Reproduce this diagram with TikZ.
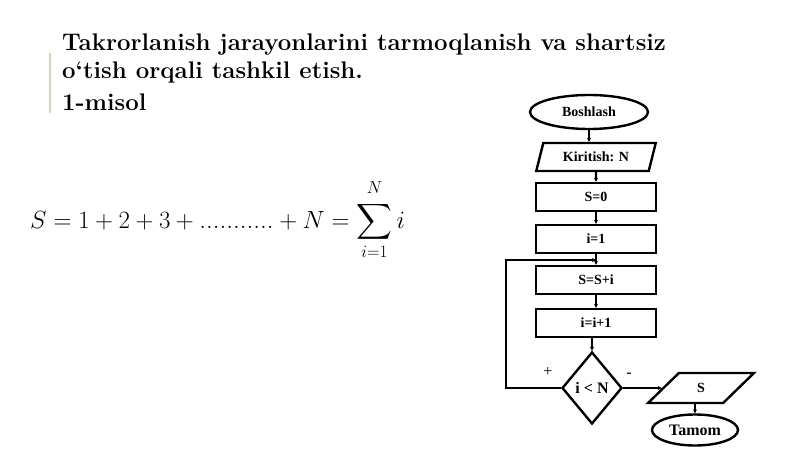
\documentclass[tikz,border=0pt]{standalone}
\usepackage{fontspec}
\usepackage{amsmath}
\newfontfamily\blokfont{Liberation Serif}
\usetikzlibrary{shapes.geometric,arrows.meta}
\definecolor{chiziq}{RGB}{214,212,178}

\begin{document}
\begin{tikzpicture}[x=1pt,y=-1pt,
  sarlavha/.style={anchor=base west,inner sep=0pt,font=\bfseries\fontsize{24}{28}\selectfont\addfontfeatures{LetterSpace=5}},
  blok/.style={draw,line width=2.4pt,minimum width=120pt,minimum height=28pt,inner sep=0pt,font=\blokfont\bfseries\fontsize{14}{16}\selectfont},
  kirit/.style={blok,trapezium,trapezium left angle=66,trapezium right angle=114,trapezium stretches=true},
  oval/.style={blok,ellipse,minimum width=118pt,minimum height=34pt},
  shart/.style={blok,diamond,minimum width=60pt,minimum height=72pt,font=\blokfont\bfseries\fontsize{16}{18}\selectfont},
  yol/.style={line width=2.4pt,-{Stealth[length=4pt,width=4pt]}}]
\useasboundingbox (0,0) rectangle (800,449);
\draw[chiziq,line width=2pt] (50,53) -- (50,113);
\node[sarlavha] (t1) at (62,51) {Takrorlanish jarayonlarini tarmoqlanish va shartsiz};
\node[sarlavha] (t2) at (62,79) {o‘tish orqali tashkil etish.};
\node[sarlavha] (t3) at (62,111) {1-misol};
\node[anchor=base west,inner sep=0pt,font=\fontsize{27}{30}\selectfont] (formula) at (30,228)
  {$S=1+2+3+\text{...........}+N=\displaystyle\sum_{i=1}^{\raisebox{3pt}{$\scriptstyle N$}} i$};

\node[oval] (bosh) at (589,112) {Boshlash};
\node[kirit] (kiritish) at (596,157) {Kiritish: N};
\node[blok] (s0) at (596,197) {S=0};
\node[blok] (i1) at (596,239) {i=1};
\node[blok] (ssi) at (596,280) {S=S+i};
\node[blok] (ii1) at (596,323) {i=i+1};
\node[shart] (qiyos) at (592,388) {i < N};
\node[kirit,minimum width=106pt,minimum height=30pt,trapezium left angle=60,trapezium right angle=120] (chiq) at (701,388) {S};
\node[oval,minimum width=86pt,minimum height=31pt,font=\blokfont\bfseries\fontsize{16}{18}\selectfont] (tamom) at (695,430) {Tamom};
\coordinate (chap) at (506,388);
\coordinate (kirish) at (596,260);

\draw[yol] (bosh) -- (bosh|-kiritish.north);
\draw[yol] (kiritish) -- (s0);
\draw[yol] (s0) -- (i1);
\draw[yol] (i1) -- (ssi);
\draw[yol] (ssi) -- (ii1);
\draw[yol] (ii1.south-|qiyos) -- (qiyos);
\draw[yol] (qiyos.west) -- (chap) |- (kirish);
\draw[yol] (qiyos.east) -- (chiq.west|-qiyos);
\draw[yol] (chiq.south-|tamom) -- (tamom);
\node[font=\blokfont\fontsize{16}{18}\selectfont] (plus) at (548,372) {+};
\node[font=\blokfont\fontsize{16}{18}\selectfont] (minus) at (629,375) {-};
\end{tikzpicture}
\end{document}
